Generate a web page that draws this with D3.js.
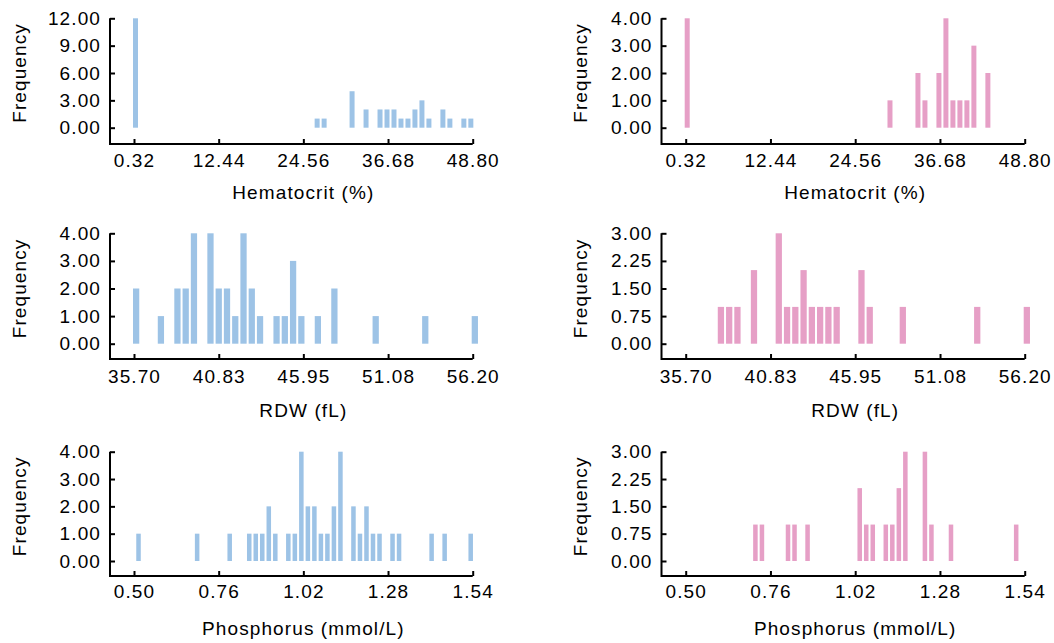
<!DOCTYPE html>
<html>
<head>
<meta charset="utf-8">
<script src="https://cdn.jsdelivr.net/npm/d3@7"></script>
<style>
  body { margin: 0; background: #fff; }
  svg text { font-family: "Liberation Sans", Arial, sans-serif; font-size: 19px; letter-spacing: 1.1px; fill: #000; }
</style>
</head>
<body>
<svg id="chart" width="1054" height="643"></svg>
<script>
// Hematocrit (%)
var hctTicks = [0.32, 12.44, 24.56, 36.68, 48.80];
var hctBlueStart = [0.32, 26.32, 27.32, 31.32, 33.32, 35.32, 36.32, 37.32, 38.32, 39.32, 40.32, 41.32, 42.32, 44.32, 45.32, 47.32, 48.32];
var hctBlueCount = [12, 1, 1, 4, 2, 2, 2, 2, 1, 1, 2, 3, 1, 2, 1, 1, 1];
var hctBlueY = [0, 3, 6, 9, 12];
var hctPinkStart = [0.32, 29.32, 33.32, 34.32, 36.32, 37.32, 38.32, 39.32, 40.32, 41.32, 43.32];
var hctPinkCount = [4, 1, 2, 1, 2, 4, 1, 1, 1, 3, 2];
var hctPinkY = [0, 1, 2, 3, 4];

// RDW (fL)
var rdwTicks = [35.70, 40.83, 45.95, 51.08, 56.20];
var rdwBlueStart = [35.7, 37.2, 38.2, 38.7, 39.2, 40.2, 40.7, 41.2, 41.7, 42.2, 42.7, 43.2, 44.2, 44.7, 45.2, 45.7, 46.7, 47.7, 50.2, 53.2, 56.2];
var rdwBlueCount = [2, 1, 2, 2, 4, 4, 2, 2, 1, 4, 2, 1, 1, 1, 3, 1, 1, 2, 1, 1, 1];
var rdwBlueY = [0, 1, 2, 3, 4];
var rdwPinkStart = [37.7, 38.2, 38.7, 39.7, 41.2, 41.7, 42.2, 42.7, 43.2, 43.7, 44.2, 44.7, 46.2, 46.7, 48.7, 53.2, 56.2];
var rdwPinkCount = [1, 1, 1, 2, 3, 1, 1, 2, 1, 1, 1, 1, 2, 1, 1, 1, 1];
var rdwPinkY = [0, 0.75, 1.5, 2.25, 3];

// Phosphorus (mmol/L)
var phosTicks = [0.50, 0.76, 1.02, 1.28, 1.54];
var phosBlueStart = [0.51, 0.69, 0.79, 0.85, 0.87, 0.89, 0.91, 0.93, 0.97, 0.99, 1.01, 1.03, 1.05, 1.07, 1.09, 1.11, 1.13, 1.17, 1.19, 1.21, 1.23, 1.25, 1.29, 1.31, 1.41, 1.45, 1.53];
var phosBlueCount = [1, 1, 1, 1, 1, 1, 2, 1, 1, 1, 4, 2, 2, 1, 1, 2, 4, 2, 1, 2, 1, 1, 1, 1, 1, 1, 1];
var phosBlueY = [0, 1, 2, 3, 4];
var phosPinkStart = [0.71, 0.73, 0.81, 0.83, 0.87, 1.03, 1.05, 1.07, 1.11, 1.13, 1.15, 1.17, 1.23, 1.25, 1.31, 1.51];
var phosPinkCount = [1, 1, 1, 1, 1, 2, 1, 1, 1, 1, 2, 3, 3, 1, 1, 1];
var phosPinkY = [0, 0.75, 1.5, 2.25, 3];

var blue = '#9dc3e6', pink = '#e69fc6';

// layout: columns and rows
var cols = [
	{ axisX: 110, x0: 134, x1: 472.7, labelX: 26 },
	{ axisX: 661.5, x0: 685.7, x1: 1024.7, labelX: 586.5 }
];
var rows = [
	{ top: 18.3, zero: 127.7, base: 144, pad: 10, titleY: 198.5, title: 'Hematocrit (%)', ticks: hctTicks, bw: 1 },
	{ top: 233.3, zero: 343.7, base: 359, pad: 10.5, titleY: 416.5, title: 'RDW (fL)', ticks: rdwTicks, bw: 0.5 },
	{ top: 451.7, zero: 561, base: 576, pad: 8.5, titleY: 634.5, title: 'Phosphorus (mmol/L)', ticks: phosTicks, bw: 0.02 }
];

var panels = [
	{ r: 0, c: 0, start: hctBlueStart, count: hctBlueCount, yTicks: hctBlueY, color: blue },
	{ r: 0, c: 1, start: hctPinkStart, count: hctPinkCount, yTicks: hctPinkY, color: pink },
	{ r: 1, c: 0, start: rdwBlueStart, count: rdwBlueCount, yTicks: rdwBlueY, color: blue },
	{ r: 1, c: 1, start: rdwPinkStart, count: rdwPinkCount, yTicks: rdwPinkY, color: pink },
	{ r: 2, c: 0, start: phosBlueStart, count: phosBlueCount, yTicks: phosBlueY, color: blue },
	{ r: 2, c: 1, start: phosPinkStart, count: phosPinkCount, yTicks: phosPinkY, color: pink }
];

var svg = d3.select('#chart');

panels.forEach(function (p) {
	var row = rows[p.r], col = cols[p.c];
	var ticks = row.ticks;

	var x = d3.scaleLinear()
		.domain([ticks[0], ticks[ticks.length - 1]])
		.range([col.x0, col.x1]);
	var y = d3.scaleLinear()
		.domain([0, d3.max(p.yTicks)])
		.range([row.zero, row.top]);

	var g = svg.append('g');

	var data = p.start.map(function (s, i) { return { s: s, n: p.count[i] }; });

	g.selectAll('rect')
		.data(data)
		.enter().append('rect')
			.attr('x', function (d) { return x(d.s) - 1; })
			.attr('y', function (d) { return y(d.n); })
			.attr('width', function (d) { return x(d.s + row.bw) - x(d.s) - 2; })
			.attr('height', function (d) { return y(0) - y(d.n); })
			.attr('fill', p.color);

	// y axis, ticks pointing inward
	var yAxis = g.append('g')
		.attr('transform', 'translate(' + col.axisX + ',0)')
		.call(d3.axisLeft(y).tickValues(p.yTicks).tickFormat(d3.format('.2f'))
			.tickSizeInner(-5).tickSizeOuter(0).tickPadding(9));

	// x axis
	var xAxis = g.append('g')
		.attr('transform', 'translate(0,' + row.base + ')')
		.call(d3.axisBottom(x).tickValues(ticks).tickFormat(d3.format('.2f'))
			.tickSizeInner(-5).tickSizeOuter(0).tickPadding(row.pad));

	[yAxis, xAxis].forEach(function (a) {
		a.select('.domain').remove();
		a.selectAll('.tick line').attr('stroke', '#000').attr('stroke-width', 2);
		a.selectAll('.tick text')
			.attr('fill', '#000')
			.style('font-size', '19px')
			.style('font-family', '"Liberation Sans", Arial, sans-serif');
	});

	// L-shaped axis lines
	g.append('path')
		.attr('d', 'M' + col.axisX + ',' + y(d3.max(p.yTicks)) + 'V' + row.base + 'H' + x(ticks[ticks.length - 1]))
		.attr('fill', 'none')
		.attr('stroke', '#000')
		.attr('stroke-width', 2);

	g.append('text')
		.attr('x', (x.range()[0] + x.range()[1]) / 2)
		.attr('y', row.titleY)
		.attr('text-anchor', 'middle')
		.text(row.title);

	g.append('text')
		.attr('transform', 'translate(' + col.labelX + ',' + (row.zero + row.top) / 2 + ') rotate(-90)')
		.attr('text-anchor', 'middle')
		.text('Frequency');
});
</script>
</body>
</html>
